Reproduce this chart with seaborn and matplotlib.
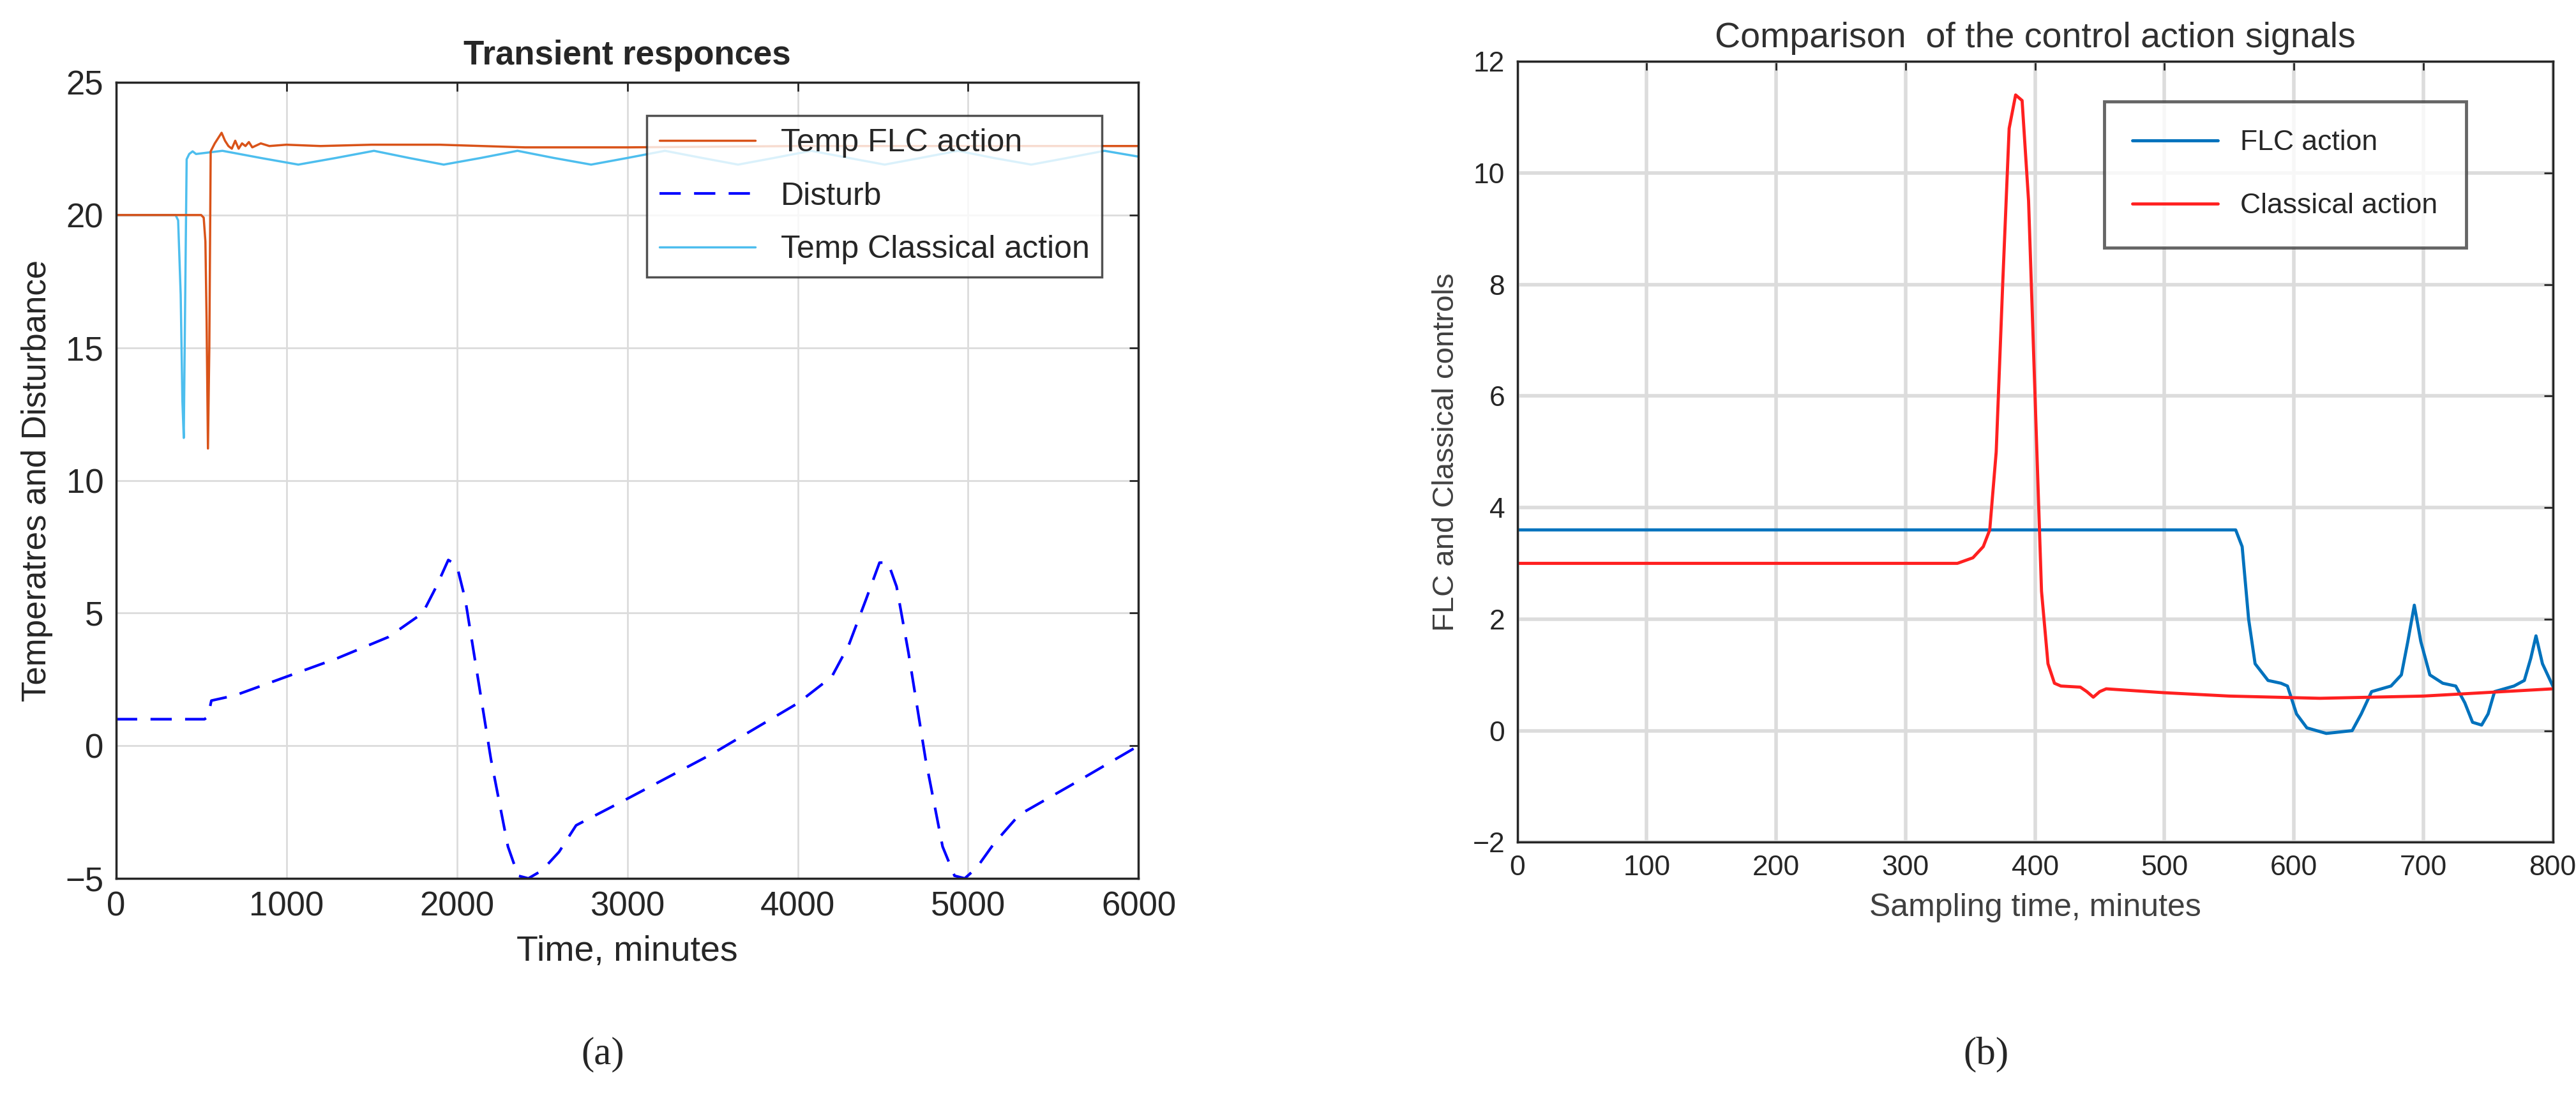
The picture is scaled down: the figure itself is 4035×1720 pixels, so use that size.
import matplotlib
matplotlib.use("Agg")
import matplotlib.pyplot as plt
import seaborn as sns
import pandas as pd

sns.set_theme(style="whitegrid")
plt.rcParams["font.family"] = ["Liberation Sans", "DejaVu Sans"]

# ── (a) transient responses ──
flc_t = [0, 500, 515, 525, 532, 540, 548, 556, 580, 600, 620, 640, 660, 680, 700, 720, 740, 760,
         780, 800, 850, 900, 1000, 1200, 1500, 1900, 2400, 3000, 4000, 5000, 6000]
flc_y = [20, 20, 19.9, 19, 16, 11.2, 15, 22.4, 22.7, 22.9, 23.1, 22.8, 22.6, 22.5, 22.8, 22.5,
         22.7, 22.6, 22.75, 22.55, 22.7, 22.6, 22.65, 22.6, 22.65, 22.65, 22.55, 22.55, 22.6, 22.6, 22.6]

cls_t = [0, 350, 365, 380, 390, 398, 405, 415, 430, 450, 470, 625, 850, 1070, 1290, 1514, 1720,
         1923, 2140, 2356, 2570, 2788, 3000, 3221, 3440, 3650, 3860, 4080, 4300, 4510, 4720, 4940,
         5150, 5370, 5580, 5800, 6000]
cls_y = [20, 20, 19.8, 17, 13, 11.6, 16, 22.1, 22.3, 22.4, 22.3, 22.42, 22.15, 21.9, 22.15, 22.42,
         22.15, 21.9, 22.15, 22.42, 22.15, 21.9, 22.15, 22.42, 22.15, 21.9, 22.15, 22.42, 22.15,
         21.9, 22.15, 22.42, 22.15, 21.9, 22.15, 22.42, 22.2]

dist_t = [0, 520, 540, 560, 700, 1000, 1300, 1600, 1800, 1880, 1950, 2000, 2050, 2100, 2200, 2300,
          2360, 2420, 2500, 2600, 2700, 3000, 3500, 4000, 4200, 4300, 4400, 4480, 4530, 4580, 4650,
          4750, 4850, 4920, 4980, 5050, 5150, 5300, 5600, 6000]
dist_y = [1, 1, 1.1, 1.7, 1.9, 2.6, 3.3, 4.1, 5.0, 6.0, 7.0, 6.8, 5.5, 3.5, -0.5, -3.8, -4.9, -5,
          -4.7, -4.0, -3.0, -2.0, -0.3, 1.6, 2.6, 3.8, 5.5, 6.9, 6.9, 6.0, 3.5, -0.5, -3.8, -4.9,
          -5, -4.6, -3.7, -2.6, -1.5, 0]

# ── (b) control action signals ──
fa_t = [0, 555, 560, 565, 570, 580, 590, 595, 602, 610, 625, 645, 652, 660, 675, 683, 688, 693,
        698, 705, 715, 725, 732, 738, 745, 750, 755, 770, 778, 783, 787, 792, 800]
fa_y = [3.6, 3.6, 3.3, 2.0, 1.2, 0.9, 0.85, 0.8, 0.3, 0.05, -0.05, 0.0, 0.3, 0.7, 0.8, 1.0, 1.6,
        2.25, 1.6, 1.0, 0.85, 0.8, 0.5, 0.15, 0.1, 0.3, 0.7, 0.8, 0.9, 1.3, 1.7, 1.2, 0.8]

ca_t = [0, 340, 352, 360, 365, 370, 375, 380, 385, 390, 395, 400, 405, 410, 415, 420, 435, 440,
        445, 450, 455, 500, 550, 620, 700, 800]
ca_y = [3.0, 3.0, 3.1, 3.3, 3.6, 5.0, 8.0, 10.8, 11.4, 11.3, 9.5, 6.0, 2.5, 1.2, 0.85, 0.8,
        0.78, 0.7, 0.6, 0.7, 0.75, 0.68, 0.62, 0.58, 0.62, 0.75]

df_flc = pd.DataFrame({"t": flc_t, "y": flc_y})
df_cls = pd.DataFrame({"t": cls_t, "y": cls_y})
df_dist = pd.DataFrame({"t": dist_t, "y": dist_y})
df_fa = pd.DataFrame({"t": fa_t, "y": fa_y})
df_ca = pd.DataFrame({"t": ca_t, "y": ca_y})

fig = plt.figure(figsize=(40.35, 17.2), dpi=100)
ax1 = fig.add_axes([0.045, 0.2, 0.397, 0.725])
ax2 = fig.add_axes([0.589, 0.233, 0.402, 0.711])


def style_axes(ax, fs, grid_lw):
    ax.set_facecolor("white")
    ax.grid(True, color="#dcdcdc", linewidth=grid_lw)
    for s in ax.spines.values():
        s.set_color("#262626")
        s.set_linewidth(2.5)
    ax.tick_params(axis="both", direction="in", length=10, width=2, labelsize=fs,
                   colors="#262626", top=True, right=True, pad=14)


sns.lineplot(data=df_cls, x="t", y="y", ax=ax1, color="#4dbeee", lw=2.5, label="Temp Classical action")
sns.lineplot(data=df_flc, x="t", y="y", ax=ax1, color="#d95319", lw=2.5, label="Temp FLC action")
sns.lineplot(data=df_dist, x="t", y="y", ax=ax1, color="#0000ff", lw=3, label="Disturb",
             linestyle=(0, (8, 5)))
style_axes(ax1, 38, 2)
ax1.set_xlim(0, 6000)
ax1.set_ylim(-5, 25)
ax1.set_xticks(range(0, 6001, 1000))
ax1.set_yticks(range(-5, 26, 5))
ax1.set_xlabel("Time, minutes", fontsize=40, color="#262626", labelpad=14)
ax1.set_ylabel("Temperatres and Disturbance", fontsize=38, color="#262626", labelpad=14)
ax1.set_title("Transient responces", fontsize=38, fontweight="bold", pad=20)
h, l = ax1.get_legend_handles_labels()
order = [1, 2, 0]
leg = ax1.legend([h[i] for i in order], [l[i] for i in order], loc="upper right",
                 bbox_to_anchor=(0.98, 0.978), fontsize=36, frameon=True,
                 fancybox=False, edgecolor="#262626", handlelength=3.0, labelspacing=0.75)
leg.get_frame().set_linewidth(2.5)

sns.lineplot(data=df_fa, x="t", y="y", ax=ax2, color="#0072bd", lw=3.5, label="FLC action")
sns.lineplot(data=df_ca, x="t", y="y", ax=ax2, color="#ff2020", lw=3.5, label="Classical action")
style_axes(ax2, 32, 4)
ax2.set_xlim(0, 800)
ax2.set_ylim(-2, 12)
ax2.set_xticks(range(0, 801, 100))
ax2.set_yticks(range(-2, 13, 2))
ax2.set_xlabel("Sampling time, minutes", fontsize=36, color="#404040", labelpad=14)
ax2.set_ylabel("FLC and Classical controls", fontsize=34, color="#404040", labelpad=14)
ax2.set_title("Comparison  of the control action signals", fontsize=40, color="#303030", pad=16)
leg2 = ax2.legend(loc="upper right", bbox_to_anchor=(0.93, 0.967), fontsize=32, frameon=True,
                  fancybox=False, edgecolor="#404040", handlelength=3.0, labelspacing=1.3,
                  borderpad=1.0)
leg2.get_frame().set_linewidth(3.5)

fig.text(0.234, 0.031, "(a)", fontsize=44, family="Liberation Serif", ha="center")
fig.text(0.771, 0.031, "(b)", fontsize=44, family="Liberation Serif", ha="center")

fig.savefig("out.png", dpi=100, facecolor="white")
